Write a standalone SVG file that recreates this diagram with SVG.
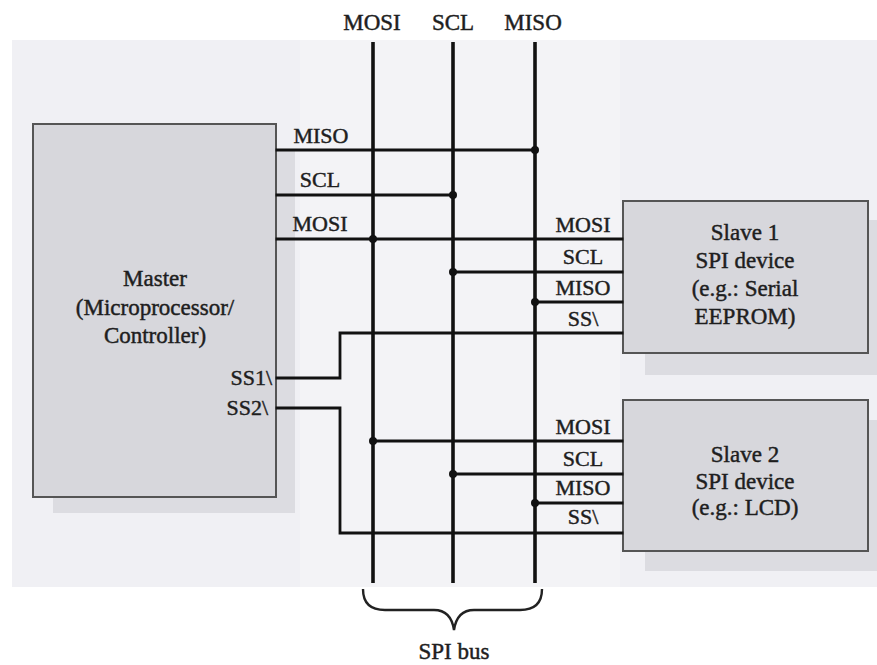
<svg xmlns="http://www.w3.org/2000/svg" width="877" height="665" viewBox="0 0 877 665">
<defs>
<style>
text{font-family:"Liberation Serif","Times New Roman",serif;fill:#1e1e1e;stroke:#1e1e1e;stroke-width:0.45}
.lbl{font-size:22px;text-anchor:middle}
.body{font-size:23px;text-anchor:middle}
.wire{fill:none;stroke:#111;stroke-width:2.8;stroke-linecap:square}
.bus{fill:none;stroke:#111;stroke-width:3.6}
.box{fill:#d7d7dc;stroke:#555;stroke-width:2}
.shadow{fill:#dcdce1;stroke:none}
.dot{fill:#111}
</style>
</defs>
<rect x="0" y="0" width="877" height="665" fill="#ffffff"/>
<rect x="12" y="40" width="865" height="547" fill="#f0f0f4"/>
<rect x="300" y="40" width="320" height="547" fill="#f3f3f6"/>

<g id="master">
<rect class="shadow" x="53" y="150" width="242" height="363"/>
<rect class="box" x="33" y="124" width="243" height="373"/>
<text class="body" x="155" y="286">Master</text>
<text class="body" x="155" y="315">(Microprocessor/</text>
<text class="body" x="155" y="343">Controller)</text>
<text class="lbl" x="272" y="385" style="text-anchor:end">SS1\</text>
<text class="lbl" x="268" y="415" style="text-anchor:end">SS2\</text>
</g>

<g id="slave1">
<rect class="shadow" x="645" y="220" width="232" height="155"/>
<rect class="box" x="623" y="201" width="245" height="152"/>
<text class="body" x="745" y="240">Slave 1</text>
<text class="body" x="745" y="268">SPI device</text>
<text class="body" x="745" y="296">(e.g.: Serial</text>
<text class="body" x="745" y="324">EEPROM)</text>
</g>

<g id="slave2">
<rect class="shadow" x="645" y="420" width="232" height="151"/>
<rect class="box" x="623" y="400" width="245" height="151"/>
<text class="body" x="745" y="462">Slave 2</text>
<text class="body" x="745" y="489">SPI device</text>
<text class="body" x="745" y="515">(e.g.: LCD)</text>
</g>

<g id="bus-labels">
<text class="lbl" x="372" y="30" style="font-size:23px">MOSI</text>
<text class="lbl" x="453" y="30" style="font-size:23px">SCL</text>
<text class="lbl" x="533" y="30" style="font-size:23px">MISO</text>
<text class="lbl" x="321" y="143">MISO</text>
<text class="lbl" x="320" y="187">SCL</text>
<text class="lbl" x="320" y="231">MOSI</text>
<text class="lbl" x="583" y="232">MOSI</text>
<text class="lbl" x="583" y="264">SCL</text>
<text class="lbl" x="583" y="295">MISO</text>
<text class="lbl" x="583" y="326">SS\</text>
<text class="lbl" x="583" y="434">MOSI</text>
<text class="lbl" x="583" y="466">SCL</text>
<text class="lbl" x="583" y="495">MISO</text>
<text class="lbl" x="583" y="524">SS\</text>
<text class="body" x="454" y="659">SPI bus</text>
</g>

<g id="connectors">
<line class="bus" x1="373" y1="42" x2="373" y2="583"/>
<line class="bus" x1="453" y1="42" x2="453" y2="583"/>
<line class="bus" x1="535" y1="42" x2="535" y2="583"/>
<line class="wire" x1="277" y1="150" x2="535" y2="150"/>
<line class="wire" x1="277" y1="195" x2="453" y2="195"/>
<line class="wire" x1="277" y1="239" x2="622" y2="239"/>
<line class="wire" x1="453" y1="272" x2="622" y2="272"/>
<line class="wire" x1="535" y1="302" x2="622" y2="302"/>
<polyline class="wire" points="277,378 340,378 340,333 622,333"/>
<line class="wire" x1="373" y1="441" x2="622" y2="441"/>
<line class="wire" x1="453" y1="474" x2="622" y2="474"/>
<line class="wire" x1="535" y1="503" x2="622" y2="503"/>
<polyline class="wire" points="277,408 340,408 340,533 622,533"/>
<circle class="dot" cx="535" cy="150" r="4"/>
<circle class="dot" cx="453" cy="195" r="4"/>
<circle class="dot" cx="373" cy="239" r="4"/>
<circle class="dot" cx="453" cy="272" r="4"/>
<circle class="dot" cx="535" cy="302" r="4"/>
<circle class="dot" cx="373" cy="441" r="4"/>
<circle class="dot" cx="453" cy="474" r="4"/>
<circle class="dot" cx="535" cy="503" r="4"/>
<path d="M363,589 Q363,610 385,610 L434,610 Q451,610 454,630 Q457,610 474,610 L520,610 Q542,610 542,589" fill="none" stroke="#222" stroke-width="2.4"/>
</g>
</svg>
